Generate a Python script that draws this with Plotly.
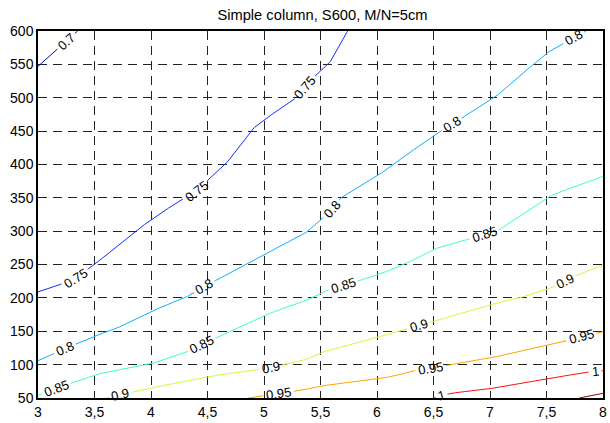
import numpy as np
import plotly.graph_objects as go

# ---------------- data ----------------
title_text = "Simple column, S600, M/N=5cm"

x_tick_vals = [3, 3.5, 4, 4.5, 5, 5.5, 6, 6.5, 7, 7.5, 8]
x_tick_text = ["3", "3,5", "4", "4,5", "5", "5,5", "6", "6,5", "7", "7,5", "8"]
y_tick_vals = [50, 100, 150, 200, 250, 300, 350, 400, 450, 500, 550, 600]
y_tick_text = ["50", "100", "150", "200", "250", "300", "350", "400", "450", "500", "550", "600"]

levels = [0.7, 0.75, 0.8, 0.85, 0.9, 0.95, 1.0, 1.05]
level_text = ["0.7", "0.75", "0.8", "0.85", "0.9", "0.95", "1", ""]
level_colors = ["#0000c8", "#1030ff", "#10b0ff", "#3cffc3", "#c8ff3a", "#ffa500", "#ff1010", "#9a0000"]

x_070 = [3.0, 3.35]
y_070 = [547, 600]
x_075 = [3.0, 3.3, 3.5, 3.87, 4.0, 4.22, 4.4, 4.5, 4.66, 4.89, 5.0, 5.27, 5.43, 5.58, 5.74]
y_075 = [209, 226, 250, 301, 317, 342, 360, 376, 400, 452, 467, 498, 529, 552, 600]
x_080 = [3.0, 3.5, 3.68, 4.0, 4.29, 4.47, 5.0, 5.35, 5.5, 5.6, 5.68, 6.0, 6.14, 6.5, 6.66, 7.04, 7.5, 7.66, 7.85]
y_080 = [106, 143, 153, 180, 199, 217, 264, 295, 316, 333, 350, 382, 400, 443, 460, 500, 567, 582, 600]
x_085 = [3.0, 3.5, 4.0, 4.29, 4.45, 5.0, 5.35, 5.52, 6.0, 6.24, 6.5, 6.85, 7.08, 7.5, 7.59, 8.0]
y_085 = [54, 85, 101, 117, 130, 174, 194, 209, 234, 250, 273, 290, 302, 350, 357, 382]
x_090 = [3.6, 4.0, 4.5, 5.0, 5.35, 5.5, 6.0, 6.5, 7.0, 7.24, 7.5, 7.74, 8.0]
y_090 = [50, 65, 82, 94, 106, 118, 140, 165, 190, 199, 212, 232, 249]
x_095 = [4.86, 5.35, 5.5, 6.0, 6.18, 6.33, 6.59, 7.0, 7.5, 7.91, 8.0]
y_095 = [50, 62, 68, 78, 84, 91, 98, 110, 128, 146, 149]
x_100 = [6.5, 6.65, 7.0, 7.5, 7.88, 8.0]
y_100 = [50, 57, 64, 79, 89, 91]
x_105 = [7.79, 8.0]
y_105 = [50, 57]

label_x_070 = [3.25]
label_x_075 = [3.33, 4.4, 5.36]
label_x_080 = [3.24, 4.47, 5.6, 6.66, 7.74]
label_x_085 = [3.16, 4.45, 5.7, 6.95]
label_x_090 = [3.73, 5.06, 6.37, 7.66]
label_x_095 = [5.13, 6.47, 7.81]
label_x_100 = [6.57, 7.93]
label_x_105 = []

line_x = [x_070, x_075, x_080, x_085, x_090, x_095, x_100, x_105]
line_y = [y_070, y_075, y_080, y_085, y_090, y_095, y_100, y_105]
label_x = [label_x_070, label_x_075, label_x_080, label_x_085,
           label_x_090, label_x_095, label_x_100, label_x_105]

# ---------------- layout geometry ----------------
W, H = 610, 423
ML, MR, MT, MB = 38, 3, 31, 20
X_RANGE = [3, 8]
Y_RANGE = [50, 600]
PW, PH = W - ML - MR, H - MT - MB
SX = PW / (X_RANGE[1] - X_RANGE[0])
SY = PH / (Y_RANGE[1] - Y_RANGE[0])

FONT = "Liberation Sans, Arial, sans-serif"
LABEL_SIZE = 13
CHAR_W = {".": 0.278}


def text_width(t, size):
    return sum(CHAR_W.get(c, 0.556) for c in t) * size


fig = go.Figure()
annotations = []

for lev, txt, col, xs, ys, lxs in zip(levels, level_text, level_colors, line_x, line_y, label_x):
    xs = np.asarray(xs, float)
    ys = np.asarray(ys, float)
    px = (xs - X_RANGE[0]) * SX
    py = (ys - Y_RANGE[0]) * SY
    s = np.concatenate([[0.0], np.cumsum(np.hypot(np.diff(px), np.diff(py)))])
    n = max(int(s[-1] * 2), 2)
    ss = np.linspace(0, s[-1], n)
    xd = np.interp(ss, s, xs)
    yd = np.interp(ss, s, ys)
    mask = np.zeros_like(ss, dtype=bool)
    hw = text_width(txt, LABEL_SIZE) / 2 + 2.5
    for lx in lxs:
        s0 = np.interp(lx, xs, s)
        ly = np.interp(s0, s, ys)
        xa, xb = np.interp([s0 - 7, s0 + 7], s, xs)
        ya, yb = np.interp([s0 - 7, s0 + 7], s, ys)
        ang = -np.degrees(np.arctan2((yb - ya) * SY, (xb - xa) * SX))
        mask |= np.abs(ss - s0) < hw
        annotations.append(dict(
            x=float(lx), y=float(ly), text=txt, textangle=float(ang),
            showarrow=False, xanchor="center", yanchor="middle",
            font=dict(family=FONT, size=LABEL_SIZE, color="black"),
        ))
    xd = np.where(mask, np.nan, xd)
    yd = np.where(mask, np.nan, yd)
    fig.add_trace(go.Scatter(
        x=xd, y=yd, mode="lines", line=dict(color=col, width=1),
        hoverinfo="skip", showlegend=False, name=str(lev),
    ))

axis_common = dict(
    showgrid=True, gridcolor="#222222", gridwidth=1, griddash="9px,6px",
    showline=True, linecolor="black", linewidth=1.5, mirror=True,
    ticks="", zeroline=False,
    tickfont=dict(family=FONT, size=14, color="black"),
)

fig.update_layout(
    width=W, height=H,
    margin=dict(l=ML, r=MR, t=MT, b=MB),
    paper_bgcolor="white", plot_bgcolor="white",
    title=dict(text=title_text, x=(ML + PW / 2) / W, xanchor="center",
               y=1 - 15 / H, yanchor="middle",
               font=dict(family=FONT, size=14.7, color="black")),
    xaxis=dict(range=X_RANGE, tickvals=x_tick_vals, ticktext=x_tick_text, **axis_common),
    yaxis=dict(range=Y_RANGE, tickvals=y_tick_vals, ticktext=y_tick_text, **axis_common),
    annotations=annotations,
    showlegend=False,
)

fig.write_html("out.html", config={"displayModeBar": False},
               post_script="document.body.style.margin='0';")
